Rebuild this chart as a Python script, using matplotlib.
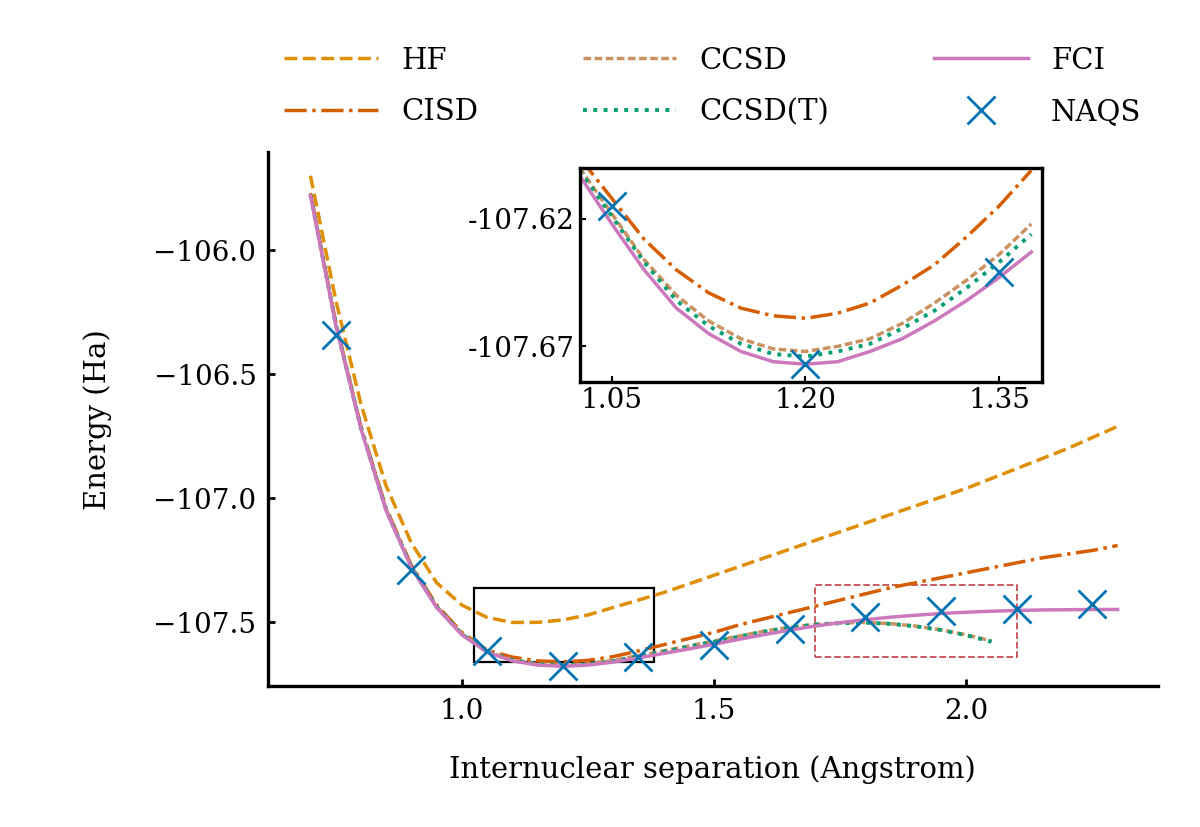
import matplotlib
matplotlib.use("Agg")
import matplotlib.pyplot as plt
from matplotlib.patches import Rectangle

# bond lengths (Angstrom)
r = [0.70, 0.75, 0.80, 0.85, 0.90, 0.95, 1.00, 1.05, 1.10, 1.15, 1.20, 1.25, 1.30,
     1.35, 1.40, 1.45, 1.50, 1.55, 1.60, 1.65, 1.70, 1.75, 1.80, 1.85, 1.90, 1.95,
     2.00, 2.05, 2.10, 2.15, 2.20, 2.25, 2.30]
hf = [-105.70, -106.20, -106.62, -106.95, -107.18, -107.34, -107.43, -107.48, -107.50,
      -107.50, -107.49, -107.47, -107.44, -107.41, -107.38, -107.345, -107.31, -107.275,
      -107.24, -107.205, -107.17, -107.135, -107.10, -107.065, -107.03, -106.995,
      -106.96, -106.92, -106.88, -106.84, -106.80, -106.755, -106.71]
cisd = [-105.77, -106.29, -106.71, -107.04, -107.27, -107.43, -107.54, -107.612, -107.640,
        -107.655, -107.659, -107.653, -107.638, -107.615, -107.59, -107.565, -107.54,
        -107.51, -107.485, -107.46, -107.435, -107.41, -107.385, -107.36, -107.34,
        -107.32, -107.30, -107.28, -107.26, -107.24, -107.225, -107.21, -107.19]
fci = [-105.78, -106.30, -106.72, -107.05, -107.28, -107.44, -107.55, -107.62, -107.655,
       -107.672, -107.677, -107.672, -107.660, -107.643, -107.625, -107.607, -107.588,
       -107.568, -107.549, -107.531, -107.515, -107.501, -107.489, -107.479, -107.471,
       -107.464, -107.459, -107.455, -107.452, -107.450, -107.449, -107.448, -107.448]
# coupled cluster only converged up to 2.05
r_cc = r[:28]
ccsd = [-105.775, -106.295, -106.715, -107.045, -107.275, -107.435, -107.545, -107.618,
        -107.650, -107.667, -107.672, -107.667, -107.653, -107.634, -107.615, -107.595,
        -107.575, -107.555, -107.535, -107.52, -107.508, -107.502, -107.50, -107.505,
        -107.515, -107.53, -107.55, -107.575]
ccsdt = [-105.777, -106.297, -106.717, -107.047, -107.277, -107.437, -107.547, -107.619,
         -107.652, -107.669, -107.674, -107.669, -107.656, -107.637, -107.618, -107.598,
         -107.578, -107.557, -107.537, -107.521, -107.509, -107.503, -107.501, -107.506,
         -107.516, -107.531, -107.552, -107.578]
r_nqs = [0.75, 0.90, 1.05, 1.20, 1.35, 1.50, 1.65, 1.80, 1.95, 2.10, 2.25]
naqs = [-106.34, -107.29, -107.615, -107.677, -107.641, -107.59, -107.525, -107.48,
        -107.455, -107.445, -107.425]

# finer points for the inset around the minimum
r_in = [1.025, 1.05, 1.075, 1.10, 1.125, 1.15, 1.175, 1.20, 1.225, 1.25, 1.275, 1.30,
        1.325, 1.35, 1.375]
cisd_in = [-107.596, -107.612, -107.628, -107.640, -107.649, -107.655, -107.658, -107.659,
           -107.657, -107.653, -107.646, -107.638, -107.627, -107.615, -107.601]
ccsd_in = [-107.600, -107.618, -107.636, -107.650, -107.660, -107.667, -107.671, -107.672,
           -107.670, -107.667, -107.661, -107.653, -107.644, -107.634, -107.622]
ccsdt_in = [-107.601, -107.619, -107.637, -107.652, -107.662, -107.669, -107.673, -107.674,
            -107.672, -107.669, -107.663, -107.656, -107.647, -107.637, -107.626]
fci_in = [-107.603, -107.622, -107.640, -107.655, -107.665, -107.672, -107.676, -107.677,
          -107.676, -107.672, -107.667, -107.660, -107.652, -107.643, -107.633]

C = {"HF": "#de8f05", "CISD": "#d55e00", "CCSD": "#ca9161", "CCSD(T)": "#029e73",
     "FCI": "#cc78bc", "NAQS": "#0173b2"}

plt.rcParams.update({"font.family": "serif", "font.serif": ["DejaVu Serif"],
                     "font.size": 18, "axes.linewidth": 2.4})

fig = plt.figure(figsize=(12, 8.27), dpi=100)
ax = fig.add_axes([0.223, 0.170, 0.742, 0.646])
ax.plot(r, hf, "--", color=C["HF"], lw=2.5, label="HF")
ax.plot(r, cisd, "-.", color=C["CISD"], lw=2.5, label="CISD")
ax.plot(r_cc, ccsd, "--", color=C["CCSD"], lw=2.5, dashes=(2.2, 1.0), label="CCSD")
ax.plot(r_cc, ccsdt, ":", color=C["CCSD(T)"], lw=2.8, label="CCSD(T)")
ax.plot(r, fci, "-", color=C["FCI"], lw=2.5, label="FCI")
ax.plot(r_nqs, naqs, "x", color=C["NAQS"], ms=20, mew=2, ls="none", label="NAQS")
ax.set_xlim(0.615, 2.38)
ax.set_ylim(-107.758, -105.605)
ax.set_xticks([1.0, 1.5, 2.0])
ax.set_yticks([-107.5, -107.0, -106.5, -106.0])
for s in ("top", "right"):
    ax.spines[s].set_visible(False)
ax.tick_params(direction="in", length=5, width=2, labelsize=20, pad=8)
ax.set_xlabel("Internuclear separation (Angstrom)", fontsize=21, labelpad=22)
ax.set_ylabel("Energy (Ha)", fontsize=21, labelpad=30)
ax.add_patch(Rectangle((1.025, -107.66), 0.355, 0.30, fill=False, ec="black", lw=1.6))
ax.add_patch(Rectangle((1.70, -107.64), 0.40, 0.29, fill=False, ec="#c44e52",
                       lw=1.3, ls="--"))
ax.legend(loc="lower center", bbox_to_anchor=(0.5, 1.0), ncol=3, frameon=False,
          fontsize=21, handlelength=3.2, columnspacing=3.6, labelspacing=0.8)

ins = fig.add_axes([0.483, 0.538, 0.385, 0.259])
ins.plot(r_in, cisd_in, "-.", color=C["CISD"], lw=2.5)
ins.plot(r_in, ccsd_in, "--", color=C["CCSD"], lw=2.5, dashes=(2.2, 1.0))
ins.plot(r_in, ccsdt_in, ":", color=C["CCSD(T)"], lw=2.8)
ins.plot(r_in, fci_in, "-", color=C["FCI"], lw=2.5)
ins.plot(r_nqs, naqs, "x", color=C["NAQS"], ms=20, mew=2, ls="none")
ins.set_xlim(1.025, 1.383)
ins.set_ylim(-107.684, -107.600)
ins.set_xticks([1.05, 1.20, 1.35])
ins.set_xticklabels(["1.05", "1.20", "1.35"])
ins.set_yticks([-107.67, -107.62])
ins.set_yticklabels(["-107.67", "-107.62"])
ins.tick_params(direction="in", length=4, width=1.5, labelsize=20)

fig.savefig("out.png", dpi=100)
